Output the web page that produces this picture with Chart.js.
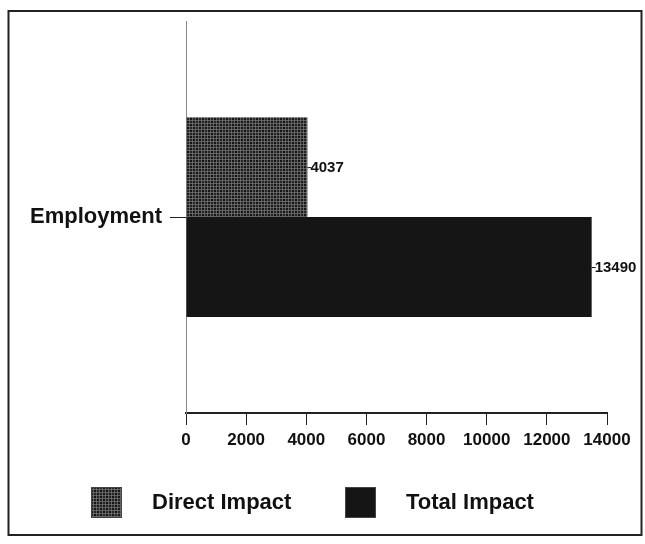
<!DOCTYPE html>
<html>
<head>
<meta charset="utf-8">
<script src="https://cdn.jsdelivr.net/npm/chart.js@4/dist/chart.umd.min.js"></script>
<style>
  html, body { margin: 0; padding: 0; background: #fff; }
  #wrap { width: 645px; height: 544px; }
</style>
</head>
<body>
<div id="wrap"><canvas id="grafico" width="645" height="544"></canvas></div>
<script>
// dados do gráfico
const categorias = ['Employment'];
const seriesNomes = ['Direct Impact', 'Total Impact'];
const impactoDireto = [4037];
const impactoTotal = [13490];
const ticksX = [0, 2000, 4000, 6000, 8000, 10000, 12000, 14000];

const FONTE = 'Arial, "Liberation Sans", sans-serif';
const TEXTO = '#111';

// textura do "Direct Impact" (malha clara sobre fundo escuro)
function criarTextura() {
    const c = document.createElement('canvas');
    c.width = 6; c.height = 6;
    const g = c.getContext('2d');
    g.fillStyle = '#262626';
    g.fillRect(0, 0, 6, 6);
    g.fillStyle = 'rgba(120,120,120,0.7)';
    g.fillRect(0, 0, 6, 1);
    g.fillRect(0, 3, 6, 1);
    g.fillRect(0, 0, 1, 6);
    g.fillRect(3, 0, 1, 6);
    g.fillStyle = '#151515';
    g.fillRect(1, 1, 2, 2);
    g.fillRect(4, 4, 2, 2);
    return g.createPattern(c, 'repeat');
}

const ctx = document.getElementById('grafico').getContext('2d');
const textura = criarTextura();
const cores = [textura, '#151515'];

// moldura, rótulos de valor e legenda
const extras = {
    id: 'extras',
    afterDraw(chart) {
        const c = chart.ctx;
        c.save();
        // moldura
        c.strokeStyle = '#222';
        c.lineWidth = 2;
        c.strokeRect(8.5, 11, 633, 524);

        // rótulos de valor
        c.font = 'bold 15px ' + FONTE;
        c.fillStyle = TEXTO;
        c.textBaseline = 'middle';
        chart.data.datasets.forEach((ds, i) => {
            chart.getDatasetMeta(i).data.forEach((bar, j) => {
                c.strokeStyle = TEXTO;
                c.lineWidth = 1;
                c.beginPath();
                c.moveTo(bar.x, bar.y + 0.5);
                c.lineTo(bar.x + 4, bar.y + 0.5);
                c.stroke();
                c.fillText(String(ds.data[j]), bar.x + 3, bar.y + 1);
            });
        });

        // legenda
        const caixas = [91, 345];
        c.font = 'bold 22px ' + FONTE;
        chart.data.datasets.forEach((ds, i) => {
            const x = caixas[i];
            c.fillStyle = ds.backgroundColor;
            c.fillRect(x, 487, 31, 31);
            c.strokeStyle = '#444';
            c.lineWidth = 1;
            c.strokeRect(x + 0.5, 487.5, 30, 30);
            c.fillStyle = TEXTO;
            c.fillText(ds.label, x + 61, 503);
        });
        c.restore();
    }
};

new Chart(ctx, {
    type: 'bar',
    data: {
        labels: categorias,
        datasets: [
            { label: seriesNomes[0], data: impactoDireto, backgroundColor: cores[0] },
            { label: seriesNomes[1], data: impactoTotal, backgroundColor: cores[1] }
        ]
    },
    options: {
        indexAxis: 'y',
        responsive: false,
        animation: false,
        layout: { padding: { top: 18, right: 38, left: 0, bottom: 0 } },
        datasets: { bar: { categoryPercentage: 0.51, barPercentage: 1 } },
        plugins: { legend: { display: false }, tooltip: { enabled: false } },
        scales: {
            x: {
                min: 0,
                max: 14000,
                afterBuildTicks: (axis) => { axis.ticks = ticksX.map(v => ({ value: v })); },
                afterFit: (axis) => { axis.height = 131; },
                grid: { drawOnChartArea: false, tickLength: 12, color: '#222', tickWidth: 1 },
                border: { color: '#222', width: 2 },
                ticks: {
                    color: TEXTO, padding: 5,
                    font: { family: FONTE, size: 17, weight: 'bold' },
                    callback: (v) => String(v)
                }
            },
            y: {
                afterFit: (axis) => { axis.width = 186; },
                grid: { drawOnChartArea: false, tickLength: 16, color: '#222', offset: false },
                border: { color: '#888', width: 1 },
                ticks: { color: TEXTO, padding: 8, font: { family: FONTE, size: 22, weight: 'bold' } }
            }
        }
    },
    plugins: [extras]
});
</script>
</body>
</html>
